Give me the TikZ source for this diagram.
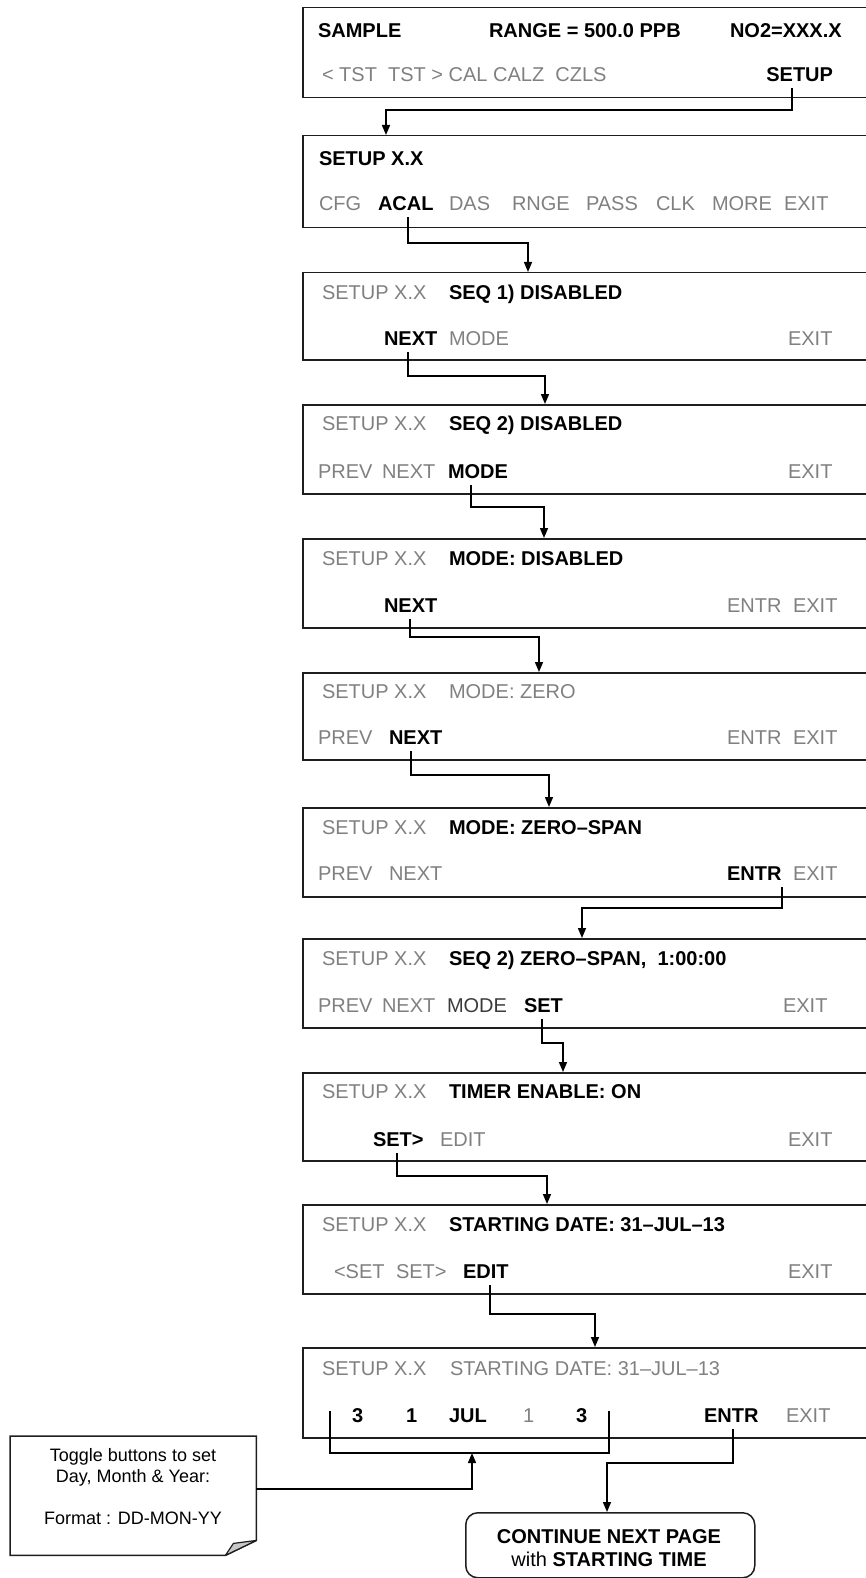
\documentclass[tikz,border=0pt]{standalone}
\usepackage{fontspec}
\setmainfont{Liberation Sans}
\usetikzlibrary{arrows.meta}
\definecolor{txtgray}{RGB}{128,128,128}
\definecolor{txtdark}{RGB}{60,60,60}
\definecolor{linecol}{RGB}{30,30,30}
\definecolor{foldgray}{RGB}{200,200,200}
\begin{document}
\begin{tikzpicture}[x=1pt,y=-1pt,
  panel/.style={draw=linecol, line width=1.5pt, anchor=north west, minimum width=620pt, minimum height=#1, inner sep=0pt},
  tx/.style={anchor=west, inner sep=0pt, outer xsep=0pt, outer ysep=7pt, text height=14.3pt, text depth=0pt, font=\fontsize{20}{24}\selectfont},
  tb/.style={tx, text=black, font=\fontsize{20}{24}\selectfont\bfseries},
  tg/.style={tx, text=txtgray},
  td/.style={tx, text=txtdark},
  conn/.style={draw=black, line width=1.5pt, -{Triangle[length=10pt,width=8pt]}},
  plain/.style={draw=black, line width=1.5pt},
  notetxt/.style={inner sep=0pt, text height=13pt, text depth=0pt, font=\fontsize{18}{21}\selectfont}
]
\useasboundingbox (0,0) rectangle (866,1578);
\clip (0,0) rectangle (866,1578);

% ---------- Box 1 ----------
\node[panel=90pt] (b1) at (302,7) {};
\node[tb] (b1a) at (318,30) {SAMPLE};
\node[tb] (b1b) at (489,30) {RANGE = 500.0 PPB};
\node[tb] (b1c) at (730,30) {NO2=XXX.X};
\node[tg] (b1d) at (322,74) {<~TST~~TST~>~CAL~CALZ~~CZLS};
\node[tb, anchor=east] (b1e) at (833,74) {SETUP};

% ---------- Box 2 ----------
\node[panel=92pt] (b2) at (302,135) {};
\node[tb] (b2a) at (319,158) {SETUP X.X};
\node[tg] (b2b) at (319,203) {CFG};
\node[tb] (b2c) at (378,203) {ACAL};
\node[tg] (b2d) at (449,203) {DAS};
\node[tg] (b2e) at (512,203) {RNGE};
\node[tg] (b2f) at (586,203) {PASS};
\node[tg] (b2g) at (656,203) {CLK};
\node[tg] (b2h) at (712,203) {MORE};
\node[tg] (b2i) at (784,203) {EXIT};

% ---------- Box 3 ----------
\node[panel=87pt] (b3) at (302,272) {};
\node[tg] (b3a) at (322,292) {SETUP X.X};
\node[tb] (b3b) at (449,292) {SEQ 1) DISABLED};
\node[tb] (b3c) at (384,338) {NEXT};
\node[tg] (b3d) at (449,338) {MODE};
\node[tg] (b3e) at (788,338) {EXIT};

% ---------- Box 4 ----------
\node[panel=89pt] (b4) at (302,404) {};
\node[tg] (b4a) at (322,423) {SETUP X.X};
\node[tb] (b4b) at (449,423) {SEQ 2) DISABLED};
\node[tg] (b4c) at (318,471) {PREV};
\node[tg] (b4d) at (382,471) {NEXT};
\node[tb] (b4e) at (448,471) {MODE};
\node[tg] (b4f) at (788,471) {EXIT};

% ---------- Box 5 ----------
\node[panel=89pt] (b5) at (302,538) {};
\node[tg] (b5a) at (322,558) {SETUP X.X};
\node[tb] (b5b) at (449,558) {MODE: DISABLED};
\node[tb] (b5c) at (384,605) {NEXT};
\node[tg] (b5d) at (727,605) {ENTR};
\node[tg] (b5e) at (793,605) {EXIT};

% ---------- Box 6 ----------
\node[panel=87pt] (b6) at (302,672) {};
\node[tg] (b6a) at (322,691) {SETUP X.X};
\node[tg] (b6b) at (449,691) {MODE: ZERO};
\node[tg] (b6c) at (318,737) {PREV};
\node[tb] (b6d) at (389,737) {NEXT};
\node[tg] (b6e) at (727,737) {ENTR};
\node[tg] (b6f) at (793,737) {EXIT};

% ---------- Box 7 ----------
\node[panel=89pt] (b7) at (302,807) {};
\node[tg] (b7a) at (322,827) {SETUP X.X};
\node[tb] (b7b) at (449,827) {MODE: ZERO–SPAN};
\node[tg] (b7c) at (318,873) {PREV};
\node[tg] (b7d) at (389,873) {NEXT};
\node[tb] (b7e) at (727,873) {ENTR};
\node[tg] (b7f) at (793,873) {EXIT};

% ---------- Box 8 ----------
\node[panel=89pt] (b8) at (302,938) {};
\node[tg] (b8a) at (322,958) {SETUP X.X};
\node[tb] (b8b) at (449,958) {SEQ 2) ZERO–SPAN,~~1:00:00};
\node[tg] (b8c) at (318,1005) {PREV};
\node[tg] (b8d) at (382,1005) {NEXT};
\node[td] (b8e) at (447,1005) {MODE};
\node[tb] (b8f) at (524,1005) {SET};
\node[tg] (b8g) at (783,1005) {EXIT};

% ---------- Box 9 ----------
\node[panel=88pt] (b9) at (302,1072) {};
\node[tg] (b9a) at (322,1091) {SETUP X.X};
\node[tb] (b9b) at (449,1091) {TIMER ENABLE: ON};
\node[tb] (b9c) at (373,1139) {SET>};
\node[tg] (b9d) at (440,1139) {EDIT};
\node[tg] (b9e) at (788,1139) {EXIT};

% ---------- Box 10 ----------
\node[panel=89pt] (b10) at (302,1204) {};
\node[tg] (b10a) at (322,1224) {SETUP X.X};
\node[tb] (b10b) at (449,1224) {STARTING DATE: 31–JUL–13};
\node[tg] (b10c) at (334,1271) {<SET};
\node[tg] (b10d) at (396,1271) {SET>};
\node[tb] (b10e) at (463,1271) {EDIT};
\node[tg] (b10f) at (788,1271) {EXIT};

% ---------- Box 11 ----------
\node[panel=90pt] (b11) at (302,1347) {};
\node[tg] (b11a) at (322,1368) {SETUP X.X};
\node[tg] (b11b) at (450,1368) {STARTING DATE: 31–JUL–13};
\node[tb] (b11c) at (352,1415) {3};
\node[tb] (b11d) at (406,1415) {1};
\node[tb] (b11e) at (449,1415) {JUL};
\node[tg] (b11f) at (523,1415) {1};
\node[tb] (b11g) at (576,1415) {3};
\node[tb] (b11h) at (704,1415) {ENTR};
\node[tg] (b11i) at (786,1415) {EXIT};

% ---------- Continue box ----------
\node[draw=linecol, line width=1.5pt, rounded corners=12pt, anchor=north west,
      minimum width=289pt, minimum height=65pt, inner sep=0pt] (cont) at (465,1512) {};
\node[inner sep=0pt, text height=14.3pt, text depth=0pt, font=\fontsize{20}{24}\selectfont\bfseries] (cont1) at (609,1536) {CONTINUE NEXT PAGE};
\node[inner sep=0pt, text height=14.3pt, text depth=0pt, font=\fontsize{20}{24}\selectfont] (cont2) at (609,1559) {with \textbf{STARTING TIME}};

% ---------- Note box ----------
\node[anchor=north west, minimum width=246pt, minimum height=119pt, inner sep=0pt] (note) at (10,1436) {};
\draw[draw=linecol, line width=1.5pt, fill=white] (note.north west) -- (note.north east) -- ([yshift=15pt]note.south east) -- ([xshift=-31pt]note.south east) -- (note.south west) -- cycle;
\filldraw[draw=linecol, line width=1.2pt, fill=foldgray, line join=round] ([xshift=-31pt]note.south east) -- ([xshift=-23pt,yshift=12pt]note.south east) -- ([yshift=15pt]note.south east) -- cycle;
\node[notetxt] (n1) at (133,1455) {Toggle buttons to set};
\node[notetxt] (n2) at (133,1476) {Day, Month \& Year:};
\node[notetxt] (n3) at (133,1518) {Format : DD-MON-YY};

% ---------- Connectors ----------
\coordinate (k1a) at (792,110);  \coordinate (k1b) at (386,110);
\draw[conn] (b1e.south -| k1a) -- (k1a) -- (k1b) -- (k1b |- b2.north);
\coordinate (k2a) at (408,243);  \coordinate (k2b) at (528,243);
\draw[conn] (b2c.south -| k2a) -- (k2a) -- (k2b) -- (k2b |- b3.north);
\coordinate (k3a) at (408,376);  \coordinate (k3b) at (545,376);
\draw[conn] (b3c.south -| k3a) -- (k3a) -- (k3b) -- (k3b |- b4.north);
\coordinate (k4a) at (471,507);  \coordinate (k4b) at (544,507);
\draw[conn] (b4e.south -| k4a) -- (k4a) -- (k4b) -- (k4b |- b5.north);
\coordinate (k5a) at (410,637);  \coordinate (k5b) at (539,637);
\draw[conn] (b5c.south -| k5a) -- (k5a) -- (k5b) -- (k5b |- b6.north);
\coordinate (k6a) at (411,775);  \coordinate (k6b) at (549,775);
\draw[conn] (b6d.south -| k6a) -- (k6a) -- (k6b) -- (k6b |- b7.north);
\coordinate (k7a) at (782,908);  \coordinate (k7b) at (582,908);
\draw[conn] (b7e.south -| k7a) -- (k7a) -- (k7b) -- (k7b |- b8.north);
\coordinate (k8a) at (542,1043); \coordinate (k8b) at (563,1043);
\draw[conn] (b8f.south -| k8a) -- (k8a) -- (k8b) -- (k8b |- b9.north);
\coordinate (k9a) at (397,1176); \coordinate (k9b) at (547,1176);
\draw[conn] (b9c.south -| k9a) -- (k9a) -- (k9b) -- (k9b |- b10.north);
\coordinate (k10a) at (490,1314); \coordinate (k10b) at (595,1314);
\draw[conn] (b10e.south -| k10a) -- (k10a) -- (k10b) -- (k10b |- b11.north);
\coordinate (k11a) at (733,1463); \coordinate (k11b) at (607,1463);
\draw[conn] (b11h.south -| k11a) -- (k11a) -- (k11b) -- (k11b |- cont.north);

% bracket under date digits
\coordinate (brl) at (330,1411); \coordinate (brr) at (609,1411);
\coordinate (brm) at (472,1453);
\draw[plain] (brl) -- (brl |- brm) -- (brr |- brm) -- (brr);
\coordinate (nk) at (472,1489);
\draw[conn] (note.east |- nk) -- (nk) -- (brm);
\end{tikzpicture}
\end{document}
